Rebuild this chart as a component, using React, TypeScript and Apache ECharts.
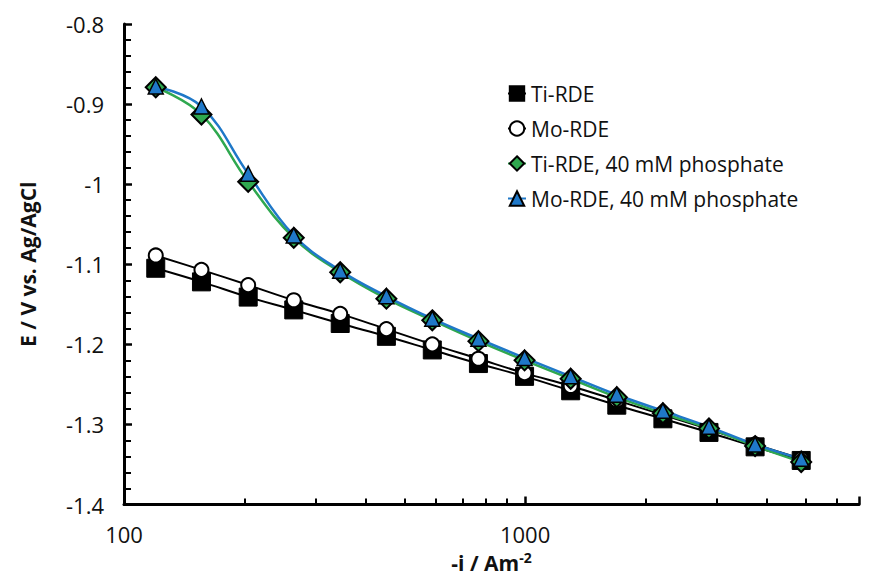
import { useEffect, useRef } from 'react';
import * as echarts from 'echarts';

const currents = [120, 156, 204, 265, 346, 451, 587, 765, 997, 1299, 1693, 2206, 2874, 3745, 4880];
const tiRde = [-1.105, -1.122, -1.141, -1.157, -1.174, -1.19, -1.207, -1.224, -1.24, -1.258, -1.276, -1.293, -1.31, -1.328, -1.345];
const moRde = [-1.089, -1.107, -1.126, -1.145, -1.162, -1.181, -1.2, -1.218, -1.236, -1.252, -1.27, -1.288, -1.306, -1.325, -1.343];
const tiPhos = [-0.879, -0.913, -0.997, -1.067, -1.11, -1.143, -1.17, -1.196, -1.22, -1.243, -1.266, -1.286, -1.305, -1.327, -1.347];
const moPhos = [-0.878, -0.903, -0.987, -1.064, -1.108, -1.14, -1.168, -1.193, -1.217, -1.24, -1.263, -1.283, -1.303, -1.325, -1.343];
const seriesNames = ['Ti-RDE', 'Mo-RDE', 'Ti-RDE, 40 mM phosphate', 'Mo-RDE, 40 mM phosphate'];
const xLabels = [100, 1000];

const FONT = "'Open Sans', 'Liberation Sans', sans-serif";

export default function App() {
  const divRef = useRef<HTMLDivElement>(null);

  useEffect(() => {
    if (!divRef.current) return;
    const chart = echarts.init(divRef.current, null, { renderer: 'svg' });

    const pts = (ys: number[]) => currents.map((x, i) => [x, ys[i]]);
    const base = { type: 'line', smooth: 0.4, z: 2 };

    chart.setOption({
      animation: false,
      textStyle: { fontFamily: FONT },
      grid: { left: 116, right: 4, top: 16, bottom: 64 },
      legend: {
        orient: 'vertical',
        left: 494,
        top: 70,
        itemGap: 14,
        itemWidth: 18,
        itemHeight: 18,
        textStyle: { fontSize: 21, color: '#111', fontFamily: FONT },
        data: seriesNames,
      },
      xAxis: {
        type: 'log',
        logBase: 10,
        min: 100,
        max: 6800,
        name: '{a|-i / Am}{s|-2}',
        nameLocation: 'middle',
        nameGap: 46,
        nameTextStyle: {
          rich: {
            a: { fontSize: 21, fontWeight: 'bold', color: '#111', fontFamily: FONT },
            s: { fontSize: 14, fontWeight: 'bold', color: '#111', verticalAlign: 'top', padding: [0, 0, 10, 0], fontFamily: FONT },
          },
        },
        axisLine: { lineStyle: { color: '#000', width: 3 } },
        axisTick: { inside: true, length: 8, lineStyle: { width: 2.5 } },
        minorTick: { show: true, splitNumber: 9, length: 6, lineStyle: { color: '#000', width: 2 } },
        axisLabel: {
          fontSize: 22,
          color: '#111',
          margin: 18,
          fontFamily: FONT,
          formatter: (v: number) => (xLabels.some((l) => Math.abs(l - v) < 1) ? String(Math.round(v)) : ''),
        },
        splitLine: { show: false },
      },
      yAxis: {
        type: 'value',
        min: -1.4,
        max: -0.8,
        interval: 0.1,
        name: 'E / V vs. Ag/AgCl',
        nameLocation: 'middle',
        nameGap: 86,
        nameTextStyle: { fontSize: 21, fontWeight: 'bold', color: '#111', fontFamily: FONT },
        axisLine: { show: true, lineStyle: { color: '#000', width: 3 } },
        axisTick: { show: true, inside: true, length: 8, lineStyle: { width: 2.5 } },
        minorTick: { show: true, splitNumber: 5, length: 7, lineStyle: { color: '#000', width: 2 } },
        axisLabel: {
          fontSize: 22,
          color: '#111',
          margin: 20,
          fontFamily: FONT,
          formatter: (v: number) => String(parseFloat(v.toFixed(1))),
        },
        splitLine: { show: false },
      },
      series: [
        {
          ...base, name: seriesNames[0], data: pts(tiRde),
          symbol: 'rect', symbolSize: 18,
          lineStyle: { color: '#000', width: 2 },
          itemStyle: { color: '#000', borderColor: '#000', borderWidth: 1 },
        },
        {
          ...base, name: seriesNames[1], data: pts(moRde),
          symbol: 'circle', symbolSize: 14,
          lineStyle: { color: '#000', width: 2 },
          itemStyle: { color: '#fff', borderColor: '#000', borderWidth: 2 },
        },
        {
          ...base, name: seriesNames[2], data: pts(tiPhos),
          symbol: 'diamond', symbolSize: 20,
          lineStyle: { color: '#2fa84f', width: 2.5 },
          itemStyle: { color: '#2fa84f', borderColor: '#000', borderWidth: 2 },
        },
        {
          ...base, name: seriesNames[3], data: pts(moPhos),
          symbol: 'triangle', symbolSize: 15,
          lineStyle: { color: '#1f78c8', width: 2.5 },
          itemStyle: { color: '#1f78c8', borderColor: '#000', borderWidth: 1.5 },
        },
      ],
    });

    return () => chart.dispose();
  }, []);

  return <div ref={divRef} style={{ width: 855, height: 570 }} />;
}
